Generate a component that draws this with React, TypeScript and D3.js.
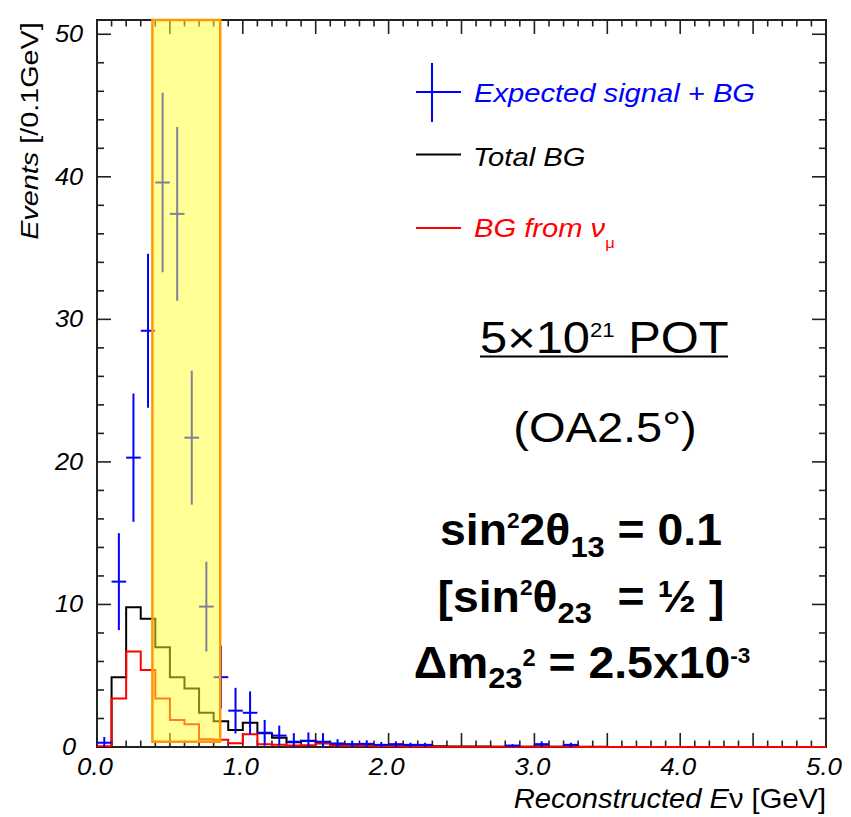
import React from 'react';
import * as d3 from 'd3';

// ---- data (0.1 GeV bins from 0.0 to 5.0 GeV) ----
const binWidth = 0.1;
const totalBG = [
  0, 4.9, 9.8, 9.0, 7.0, 4.9, 4.1, 2.4, 1.8, 1.2,
  1.7, 0.96, 0.65, 0.33, 0.44, 0.26, 0.2, 0.15, 0.15, 0.12,
  0.1, 0.08, 0.1, 0.05, 0.04, 0.03, 0.03, 0.02, 0.03, 0.02,
  0.06, 0.02, 0.06, 0.01, 0.01, 0, 0, 0, 0, 0,
  0, 0, 0, 0, 0, 0, 0, 0, 0, 0,
];
const bgFromNumu = [
  0.05, 3.4, 6.7, 5.4, 3.4, 1.9, 1.6, 0.55, 0.5, 0.26,
  0.9, 0.2, 0.15, 0.1, 0.12, 0.26, 0.1, 0.08, 0.08, 0.05,
  0.05, 0.03, 0.03, 0.02, 0.02, 0.01, 0.01, 0.01, 0.01, 0.01,
  0.01, 0.01, 0.01, 0, 0, 0, 0, 0, 0, 0,
  0, 0, 0, 0, 0, 0, 0, 0, 0, 0,
];
const signalPlusBG = [
  0.3, 11.6, 20.3, 29.2, 39.6, 37.4, 21.7, 9.85, 4.9, 2.55,
  2.4, 1.0, 0.8, 0.37, 0.42, 0.37, 0.25, 0.2, 0.22, 0.15,
  0.2, 0.15, 0.15, 0, 0, 0, 0, 0, 0.1, 0,
  0.2, 0, 0.15, 0, 0, 0, 0, 0, 0, 0,
  0, 0, 0, 0, 0, 0, 0, 0, 0, 0,
];
const signalErr = [
  0.4, 3.4, 4.5, 5.4, 6.3, 6.1, 4.7, 3.15, 2.2, 1.6,
  1.5, 0.9, 0.7, 0.6, 0.6, 0.6, 0.3, 0.25, 0.25, 0.2,
  0.2, 0.15, 0.15, 0, 0, 0, 0, 0, 0.1, 0,
  0.2, 0, 0.15, 0, 0, 0, 0, 0, 0, 0,
  0, 0, 0, 0, 0, 0, 0, 0, 0, 0,
];
const xTickValues = [0, 1, 2, 3, 4, 5];
const yTickValues = [0, 10, 20, 30, 40, 50];
const energyWindow = [0.38, 0.845];
const windowYRange = [0.37, 51];

const FONT = "'Liberation Sans', Arial, Helvetica, sans-serif";

type Part = { t: string; size?: number; shift?: number; italic?: boolean; fill?: string };

function Rich({ x, y, sx = 1, anchor = 'start', parts, size, weight = 'normal', italic = false, fill = '#000', rotate = 0 }: any) {
  let prev = 0;
  return (
    <g transform={`translate(${x},${y}) rotate(${rotate}) scale(${sx},1)`}>
      <text
        textAnchor={anchor}
        fontFamily={FONT}
        fontSize={size}
        fontWeight={weight}
        fontStyle={italic ? 'italic' : 'normal'}
        fill={fill}
        style={{ whiteSpace: 'pre' }}
      >
        {(parts as Part[]).map((p, i) => {
          const s = p.shift ?? 0;
          const dy = s - prev;
          prev = s;
          return (
            <tspan
              key={i}
              dy={dy}
              fontSize={p.size ?? size}
              fontStyle={p.italic === undefined ? undefined : p.italic ? 'italic' : 'normal'}
              fill={p.fill}
            >
              {p.t}
            </tspan>
          );
        })}
      </text>
    </g>
  );
}

export default function App() {
  const W = 851, H = 817;
  const x = d3.scaleLinear().domain([0, 5]).range([97, 826]);
  const y = d3.scaleLinear().domain([0, 51]).range([747, 20]);
  const [x0, x1] = x.range();
  const [yb, yt] = y.range();

  const histPath = (vals: number[]) => {
    const pts: [number, number][] = [];
    vals.forEach((v, i) => {
      pts.push([i * binWidth, v]);
      pts.push([(i + 1) * binWidth, v]);
    });
    return d3.line<[number, number]>().x(d => x(d[0])).y(d => y(d[1]))(pts) || '';
  };

  const xMinor = d3.range(0, 51).map(i => i * 0.1);
  const yMinor = d3.range(0, 26).map(i => i * 2);
  const isXMajor = (v: number) => Math.abs(v * 2 - Math.round(v * 2)) < 1e-6;
  const isYMajor = (v: number) => v % 10 === 0;
  const axisColor = '#222';

  return (
    <svg width={W} height={H} style={{ position: 'absolute', left: 0, top: 0, background: '#fff' }}>
      <rect x={0} y={0} width={W} height={H} fill="#fff" />

      {/* frame */}
      <rect x={x0} y={yt} width={x1 - x0} height={yb - yt} fill="none" stroke={axisColor} strokeWidth={2} />

      {/* x ticks bottom and top */}
      {xMinor.map((v, i) => {
        const len = isXMajor(v) ? 14 : 6.5;
        return (
          <g key={'xt' + i} stroke={axisColor} strokeWidth={1.6}>
            <line x1={x(v)} x2={x(v)} y1={yb} y2={yb - len} />
            <line x1={x(v)} x2={x(v)} y1={yt} y2={yt + len} />
          </g>
        );
      })}
      {/* y ticks left and right */}
      {yMinor.map((v, i) => {
        const len = isYMajor(v) ? 14 : 7;
        return (
          <g key={'yt' + i} stroke={axisColor} strokeWidth={1.6}>
            <line x1={x0} x2={x0 + len} y1={y(v)} y2={y(v)} />
            <line x1={x1} x2={x1 - len} y1={y(v)} y2={y(v)} />
          </g>
        );
      })}

      {/* tick labels */}
      {yTickValues.map(v => (
        <Rich key={'yl' + v} x={v === 0 ? 76 : 83} y={y(v) + 8} sx={1.1} anchor="end" size={23} italic
          parts={[{ t: String(v) }]} />
      ))}
      {xTickValues.map(v => (
        <Rich key={'xl' + v} x={x(v) - 2} y={775} sx={1.1} anchor="middle" size={23.5} italic
          parts={[{ t: d3.format('.1f')(v) }]} />
      ))}

      {/* axis titles */}
      <Rich x={826} y={808} sx={1.04} anchor="end" size={28}
        parts={[{ t: 'Reconstructed E', italic: true }, { t: 'ν [GeV]', italic: false }]} />
      <Rich x={38} y={131} rotate={-90} sx={1.2} anchor="middle" size={24}
        parts={[{ t: 'Events', italic: true }, { t: ' [/0.1GeV]', italic: false }]} />

      {/* histograms */}
      <path d={histPath(totalBG)} fill="none" stroke="#000" strokeWidth={2} />
      <path d={histPath(bgFromNumu)} fill="none" stroke="#ff0000" strokeWidth={2} />

      {/* signal + BG error crosses */}
      {signalPlusBG.map((v, i) => {
        if (v <= 0) return null;
        const c = (i + 0.5) * binWidth;
        const lo = Math.max(0, v - signalErr[i]);
        const hi = v + signalErr[i];
        return (
          <g key={'e' + i} stroke="#0000ff" strokeWidth={2}>
            <line x1={x(c)} x2={x(c)} y1={y(lo)} y2={y(hi)} />
            <line x1={x(i * binWidth)} x2={x((i + 1) * binWidth)} y1={y(v)} y2={y(v)} />
          </g>
        );
      })}

      {/* energy window */}
      <rect x={x(energyWindow[0])} y={y(windowYRange[1])} width={x(energyWindow[1]) - x(energyWindow[0])}
        height={y(windowYRange[0]) - y(windowYRange[1])} fill="#ffff2d" fillOpacity={0.5} />
      <rect x={x(energyWindow[0])} y={y(windowYRange[1])} width={x(energyWindow[1]) - x(energyWindow[0])}
        height={y(windowYRange[0]) - y(windowYRange[1])} fill="none" stroke="#ff9900" strokeWidth={2.5} />

      {/* legend */}
      <g stroke="#0000ff" strokeWidth={2}>
        <line x1={432} x2={432} y1={63} y2={122} />
        <line x1={416} x2={461} y1={92} y2={92} />
      </g>
      <Rich x={474} y={101.5} sx={1.1} size={26.5} italic fill="#0000ff" parts={[{ t: 'Expected signal + BG' }]} />
      <line x1={416} x2={461} y1={154.5} y2={154.5} stroke="#000" strokeWidth={2} />
      <Rich x={473} y={165.5} sx={1.1} size={26.5} italic fill="#000" parts={[{ t: 'Total BG' }]} />
      <line x1={416} x2={461} y1={228} y2={228} stroke="#ff0000" strokeWidth={2} />
      <Rich x={474} y={237} sx={1.1} size={26.5} italic fill="#ff0000"
        parts={[{ t: 'BG from ν' }, { t: 'μ', size: 15, shift: 11, italic: false }]} />

      {/* annotations */}
      <Rich x={480} y={352.7} sx={1.11} size={44}
        parts={[{ t: '5×10' }, { t: '21', size: 20, shift: -16 }, { t: ' POT', shift: 0 }]} />
      <line x1={480} x2={728} y1={356.5} y2={356.5} stroke="#000" strokeWidth={2} />
      <Rich x={605} y={441.7} sx={1.12} anchor="middle" size={42} parts={[{ t: '(OA2.5°)' }]} />

      <Rich x={581} y={545} sx={1.03} anchor="middle" size={45} weight="bold"
        parts={[
          { t: 'sin' }, { t: '2', size: 22, shift: -17 }, { t: '2θ', shift: 0 },
          { t: '13', size: 30, shift: 11.5 }, { t: ' = 0.1', shift: 0 },
        ]} />
      <Rich x={581} y={611.7} sx={1.03} anchor="middle" size={45} weight="bold"
        parts={[
          { t: '[sin' }, { t: '2', size: 22, shift: -17 }, { t: 'θ', shift: 0 },
          { t: '23', size: 30, shift: 11.5 }, { t: '  = ½ ]', shift: 0 },
        ]} />
      <Rich x={582} y={678.3} sx={1.03} anchor="middle" size={45} weight="bold"
        parts={[
          { t: 'Δm' }, { t: '23', size: 30, shift: 10 }, { t: '2', size: 23, shift: -12 },
          { t: ' = 2.5x10', shift: 0 }, { t: '-3', size: 22, shift: -15 },
        ]} />
    </svg>
  );
}
